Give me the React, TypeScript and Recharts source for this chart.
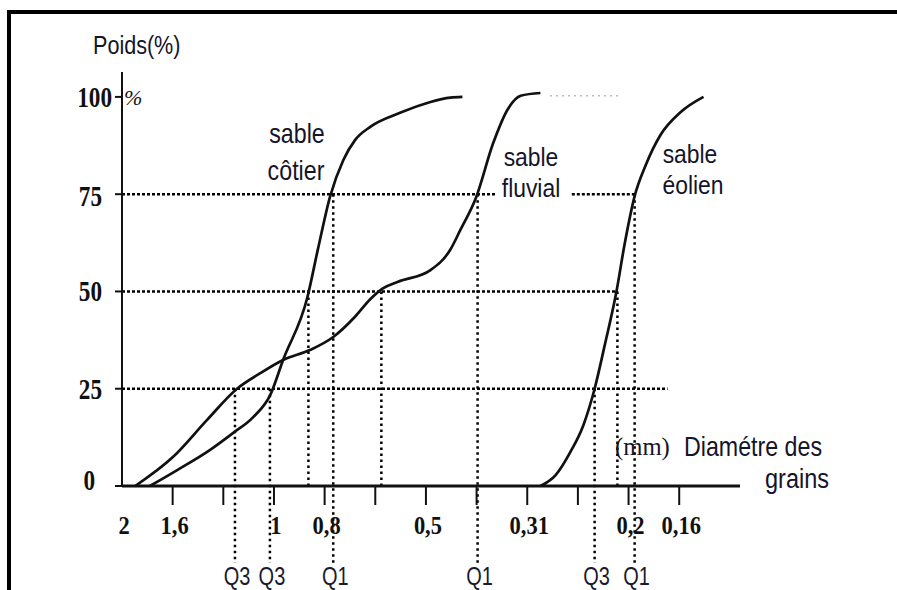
import React from "react";
import { ComposedChart, Line, XAxis, YAxis, ReferenceLine } from "recharts";

// x positions are tick indexes on the (log-spaced) diameter axis, y is cumulative weight %
const tickLabels = ["2", "1,6", "", "1", "0,8", "", "0,5", "", "0,31", "", "0,2", "0,16"];
const tickIndex = [0, 1, 2, 3, 4, 5, 6, 7, 8, 9, 10, 11];
const yTicks = [0, 25, 50, 75, 100];

const cotierX = [0.55, 1.09, 1.74, 2.19, 2.59, 2.93, 3.18, 3.66, 3.87, 4.11, 4.37, 4.6, 4.9, 5.49, 6.09, 6.48, 6.72];
const cotierY = [0, 4.1, 9.3, 13.6, 17.7, 23.5, 32.4, 48.5, 61, 74.5, 83.8, 88.9, 92.3, 95.9, 98.7, 99.8, 100];

const fluvialX = [0.26, 1.01, 1.68, 2.27, 2.73, 3.18, 3.72, 4.17, 4.6, 4.9, 5.15, 5.45, 6.09, 6.48, 6.68, 6.98, 7.33, 7.61, 7.87, 8.26];
const fluvialY = [0, 7.5, 17, 25, 29, 32.4, 35, 38.3, 43.5, 48, 50.8, 52.5, 55.5, 60.7, 65.8, 73.8, 88.2, 96.7, 100.3, 101];

const eolienX = [8.26, 8.56, 8.85, 9.11, 9.33, 9.53, 9.76, 9.92, 10.12, 10.34, 10.63, 11.03, 11.48];
const eolienY = [0, 2.8, 8.7, 15.7, 25, 36.2, 49.9, 62, 74.5, 82.5, 90.2, 96.1, 100];

// quartile / median guides (vertical dotted lines)
const guideX = [2.23, 2.92, 3.68, 4.17, 5.12, 7.02, 9.33, 9.78, 10.12];
const guideLevel = [25, 25, 50, 75, 50, 75, 25, 50, 75];
const guideLabel = ["Q3", "Q3", "", "Q1", "", "Q1", "Q3", "", "Q1"];

// horizontal dotted lines
const hLevel = [75, 75, 50, 25];
const hFrom = [0, 8.88, 0, 0];
const hTo = [7.4, 10.12, 9.78, 10.77];

const toRows = (xs: number[], ys: number[]) => xs.map((d, i) => ({ d, p: ys[i] }));
const cotier = toRows(cotierX, cotierY);
const fluvial = toRows(fluvialX, fluvialY);
const eolien = toRows(eolienX, eolienY);

const INK = "#111";
const SANS = "'Liberation Sans', Arial, sans-serif";
const SERIF = "'Liberation Serif', 'Times New Roman', serif";

function XTick({ x, y, payload }: any) {
  const i = payload.value;
  return (
    <g>
      {i > 0 && <line x1={x} x2={x} y1={y} y2={y + 19} stroke={INK} strokeWidth={2} />}
      <text
        transform={`translate(${x + 2},${y + 48}) scale(0.9,1)`}
        textAnchor="middle"
        fontFamily={SERIF}
        fontWeight="bold"
        fontSize={25}
        fill={INK}
      >
        {tickLabels[i]}
      </text>
    </g>
  );
}

function YTick({ x, y, payload }: any) {
  const v = payload.value;
  const right = v === 100 ? x - 10 : v === 0 ? x - 27 : x - 20;
  const base = v === 0 ? y + 4 : v === 75 ? y + 12 : y + 10;
  return (
    <g>
      <line x1={x - 7} x2={x} y1={y} y2={y} stroke={INK} strokeWidth={2} />
      <text
        transform={`translate(${right},${base}) scale(0.8,1)`}
        textAnchor="end"
        fontFamily={SERIF}
        fontWeight="bold"
        fontSize={29}
        fill={INK}
      >
        {v}
      </text>
      {v === 100 && (
        <text x={x + 2} y={y + 8} fontFamily={SERIF} fontStyle="italic" fontSize={22} fill={INK}>
          %
        </text>
      )}
    </g>
  );
}

function qLabel(text: string) {
  return (props: any) => {
    const vb = props.viewBox || {};
    if (!text) return null;
    const cx = (vb.x ?? 0) + (vb.width ?? 0) / 2 + 2;
    const by = (vb.y ?? 0) + (vb.height ?? 0) + 22;
    return (
      <text
        transform={`translate(${cx},${by}) scale(0.8,1)`}
        textAnchor="middle"
        fontFamily={SANS}
        fontSize={25}
        fill="#1a1a2e"
      >
        {text}
      </text>
    );
  };
}

function Ann({ x, y, size, sx, anchor = "start", family = SANS, children }: any) {
  return (
    <text
      transform={`translate(${x},${y}) scale(${sx},1)`}
      textAnchor={anchor}
      fontFamily={family}
      fontSize={size}
      fill="#14142a"
    >
      {children}
    </text>
  );
}

export default function App() {
  return (
    <div style={{ position: "absolute", left: 0, top: 0, width: 897, height: 590, background: "#fff", overflow: "hidden" }}>
      <div
        style={{
          position: "absolute",
          left: 7,
          top: 10,
          width: 900,
          height: 600,
          borderTop: "4px solid #000",
          borderLeft: "4px solid #000",
        }}
      />
      <div style={{ position: "absolute", left: 0, top: 0 }}>
        <ComposedChart width={897} height={590} margin={{ top: 72, right: 157, bottom: 0, left: 0 }}>
          <XAxis
            type="number"
            dataKey="d"
            domain={[0, 12.2]}
            ticks={tickIndex}
            interval={0}
            height={104}
            tickSize={0}
            tickMargin={0}
            tick={<XTick />}
            axisLine={{ stroke: INK, strokeWidth: 3 }}
            allowDataOverflow
          />
          <YAxis
            type="number"
            domain={[0, 106.4]}
            ticks={yTicks}
            interval={0}
            width={122}
            tickSize={0}
            tickMargin={0}
            tick={<YTick />}
            axisLine={{ stroke: INK, strokeWidth: 2 }}
            allowDataOverflow
          />
          {hLevel.map((lv, i) => (
            <ReferenceLine
              key={"h" + i}
              segment={[{ x: hFrom[i], y: lv }, { x: hTo[i], y: lv }]}
              stroke="#000"
              strokeWidth={2.5}
              strokeDasharray="3 2"
              ifOverflow="visible"
            />
          ))}
          {guideX.map((gx, i) => (
            <ReferenceLine
              key={"v" + i}
              segment={[{ x: gx, y: guideLevel[i] }, { x: gx, y: guideLabel[i] ? -19.8 : 0 }]}
              stroke="#000"
              strokeWidth={2.5}
              strokeDasharray="2.5 3.5"
              ifOverflow="visible"
              label={qLabel(guideLabel[i])}
            />
          ))}
          <ReferenceLine
            segment={[{ x: 8.45, y: 100.3 }, { x: 9.85, y: 100.3 }]}
            stroke="#bbb"
            strokeWidth={1.5}
            strokeDasharray="2 4"
            ifOverflow="visible"
          />
          <Line data={cotier} dataKey="p" type="monotone" dot={false} stroke={INK} strokeWidth={2.7} isAnimationActive={false} />
          <Line data={fluvial} dataKey="p" type="monotone" dot={false} stroke={INK} strokeWidth={2.7} isAnimationActive={false} />
          <Line data={eolien} dataKey="p" type="monotone" dot={false} stroke={INK} strokeWidth={2.7} isAnimationActive={false} />
        </ComposedChart>
      </div>
      <svg width={897} height={590} style={{ position: "absolute", left: 0, top: 0, pointerEvents: "none" }}>
        <Ann x={93} y={54} size={26} sx={0.83}>Poids(%)</Ann>
        <Ann x={297} y={143} size={27} sx={0.86} anchor="middle">sable</Ann>
        <Ann x={296} y={180} size={27} sx={0.86} anchor="middle">côtier</Ann>
        <Ann x={531} y={166} size={26} sx={0.88} anchor="middle">sable</Ann>
        <Ann x={531} y={197} size={26} sx={0.88} anchor="middle">fluvial</Ann>
        <Ann x={690} y={163} size={26} sx={0.88} anchor="middle">sable</Ann>
        <Ann x={693} y={194} size={26} sx={0.88} anchor="middle">éolien</Ann>
        <Ann x={615} y={455} size={26} sx={0.95} family={SERIF}>(mm)</Ann>
        <Ann x={684} y={456} size={27} sx={0.86}>Diamétre des</Ann>
        <Ann x={765} y={488} size={27} sx={0.87}>grains</Ann>
      </svg>
    </div>
  );
}
